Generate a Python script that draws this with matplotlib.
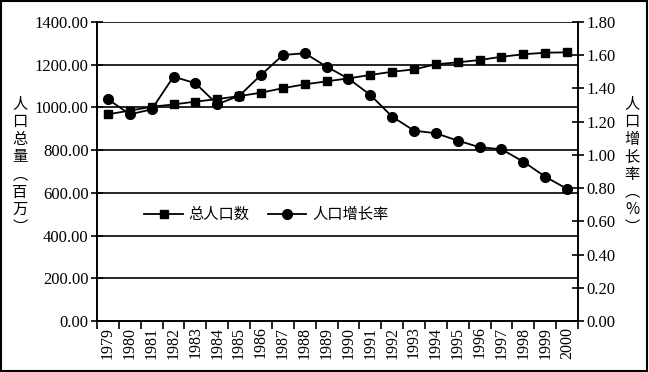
import matplotlib
matplotlib.use('Agg')
import matplotlib.pyplot as plt
from matplotlib.patches import Rectangle
from matplotlib import font_manager
import numpy as np

plt.rcParams['font.serif'] = ['Liberation Serif', 'Times New Roman', 'DejaVu Serif']
plt.rcParams['font.family'] = ['serif']
print([f.name for f in font_manager.fontManager.ttflist if 'Liberation' in f.name])

years = [str(y) for y in range(1979, 2001)]
# total population, millions (left axis)
population = [968, 985, 1003, 1014, 1027, 1039, 1053, 1069, 1090, 1108, 1122,
              1136, 1152, 1167, 1178, 1202, 1211, 1222, 1237, 1249, 1256, 1258]
# growth rate, % (right axis)
growth = [1.335, 1.244, 1.274, 1.471, 1.431, 1.305, 1.355, 1.481, 1.601, 1.612,
          1.531, 1.459, 1.361, 1.230, 1.146, 1.130, 1.086, 1.046, 1.034, 0.959,
          0.869, 0.795]

left_ticks = np.arange(0, 1401, 200)
right_ticks = np.arange(0, 1.81, 0.2)

fig = plt.figure(figsize=(6.49, 3.72), dpi=100)
ax = fig.add_axes([0.1495, 0.1371, 0.7411, 0.8038])
ax2 = ax.twinx()

x = np.arange(len(years))

cjk = 'Noto Sans CJK SC'

l1, = ax.plot(x, population, color='black', lw=1.3, marker='s', ms=6.2,
              label='总人口数')
l2, = ax2.plot(x, growth, color='black', lw=1.3, marker='o', ms=7,
               label='人口增长率')

ax.set_xlim(-0.5, len(years) - 0.5)
ax.set_ylim(0, 1400)
ax2.set_ylim(0, 1.8)

ax.set_yticks(left_ticks)
ax.set_yticklabels(['%.2f' % v for v in left_ticks], fontsize=12)
ax2.set_yticks(right_ticks)
ax2.set_yticklabels(['%.2f' % v for v in right_ticks], fontsize=12)

for v in left_ticks[1:]:
    ax.axhline(v, color='black', lw=1.2, zorder=0)

ax.set_xticks(x)
ax.set_xticklabels(years, rotation=90, fontsize=11.5)
ax.tick_params(axis='x', length=0, pad=4)
ax.set_xticks(np.arange(-0.5, len(years)), minor=True)
ax.tick_params(axis='x', which='minor', length=6, width=1.2, direction='out')

ax.tick_params(axis='y', direction='inout', length=8, width=1.2, pad=2)
ax2.tick_params(axis='y', direction='inout', length=8, width=1.2, pad=2)

for a in (ax, ax2):
    a.spines['top'].set_visible(False)
    for s in ('left', 'right', 'bottom'):
        a.spines[s].set_linewidth(1.2)

fig.text(0.031, 0.555, '\n'.join('人口总量︵百万︶'), ha='center', va='center',
         fontsize=11, family=cjk, linespacing=1.05)
fig.text(0.974, 0.555, '\n'.join('人口增长率︵%︶'), ha='center', va='center',
         fontsize=11, family=[cjk, 'DejaVu Sans'], linespacing=1.05)

leg = ax.legend(handles=[l1, l2], loc='upper left', bbox_to_anchor=(0.07, 0.43),
                ncol=2, frameon=False, handlelength=2.5,
                columnspacing=1.2, handletextpad=0.4,
                prop={'family': cjk, 'size': 11})

fig.patches.append(Rectangle((0.002, 0.004), 0.995, 0.992, transform=fig.transFigure,
                             fill=False, edgecolor='black', lw=1.5))

fig.savefig('out.png', dpi=100)
